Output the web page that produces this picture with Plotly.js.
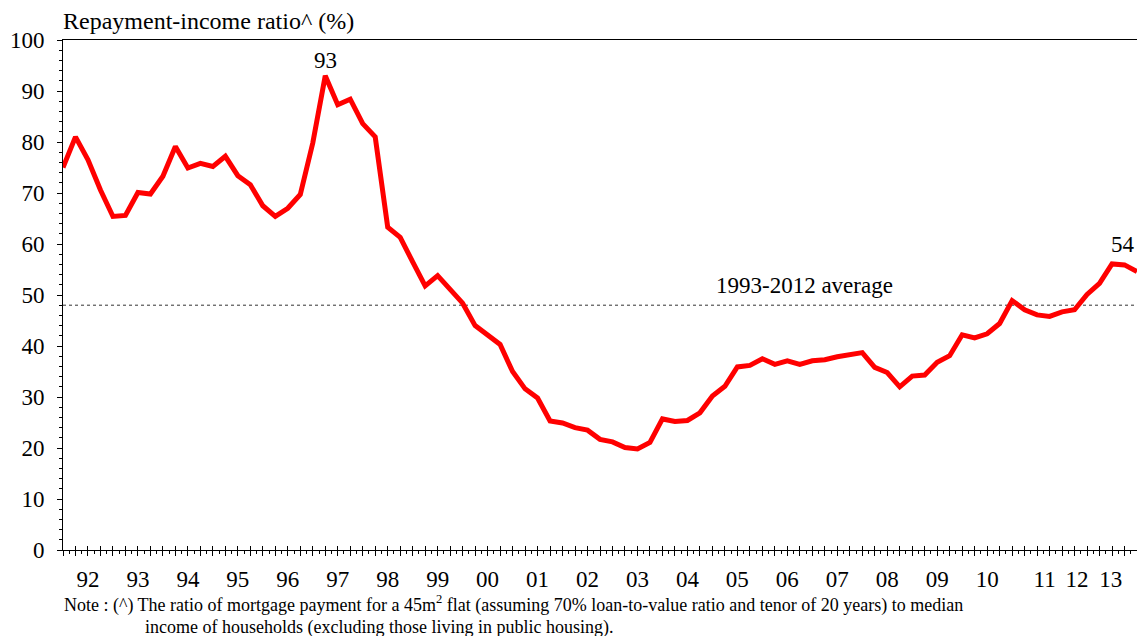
<!DOCTYPE html>
<html>
<head>
<meta charset="utf-8">
<script src="https://cdn.plot.ly/plotly-3.0.1.min.js"></script>
<style>html,body{margin:0;padding:0;background:#fff;}#chart{width:1137px;height:636px;}</style>
</head>
<body>
<div id="chart"></div>
<script>
// Quarterly repayment-income ratio (%), 1992 Q1 to 2013 Q3
const yearLabels = ['92','93','94','95','96','97','98','99','00','01','02','03','04','05','06','07','08','09','10','11','12','13'];
const ratio = [
  75.0, 81.0, 76.5, 70.6, 65.4, 65.6, 70.1, 69.8,   // 92-93
  73.3, 79.1, 74.9, 75.8, 75.2, 77.2, 73.4, 71.6,   // 94-95
  67.5, 65.4, 67.0, 69.7, 79.8, 93.0, 87.3, 88.4,   // 96-97
  83.6, 81.0, 63.3, 61.3, 56.5, 51.8, 53.8, 51.1,   // 98-99
  48.4, 44.0, 42.2, 40.3, 35.0, 31.6, 29.8, 25.3,   // 00-01
  24.9, 24.0, 23.5, 21.7, 21.2, 20.1, 19.8, 21.1,   // 02-03
  25.7, 25.2, 25.4, 26.9, 30.2, 32.1, 35.9, 36.2,   // 04-05
  37.5, 36.4, 37.1, 36.4, 37.1, 37.3, 37.9, 38.4,   // 06-07
  38.7, 35.8, 34.8, 32.0, 34.1, 34.3, 36.8, 38.1,   // 08-09
  42.2, 41.6, 42.4, 44.4, 48.9, 47.1, 46.1, 45.8,   // 10-11
  46.7, 47.1, 50.1, 52.3, 56.1, 55.9, 54.6          // 12-13
];
const averageRatio = 48.0;
const averageLabel = '1993-2012 average';
const peakLabels = ['93', '54'];
const peakIndex = [21, 85];

const quarterIdx = ratio.map((v, i) => i);
const lastIdx = ratio.length - 1;
// year label placed mid-year; the last three sit as in the source
const labelShift = {19: 78.6, 20: 81.2, 21: 83.9};
const labelPos = yearLabels.map((t, k) => (labelShift[k] !== undefined ? labelShift[k] : 4 * k + 2));

const serif = 'Liberation Serif, Times New Roman, serif';

const traces = [
  {x: quarterIdx, y: ratio, type: 'scatter', mode: 'lines',
   line: {color: '#FF0000', width: 5}, hoverinfo: 'skip', cliponaxis: false},
  {x: [0], y: [null], xaxis: 'x2', yaxis: 'y', type: 'scatter', mode: 'lines', hoverinfo: 'skip'},
  {x: [0], y: [null], xaxis: 'x3', yaxis: 'y', type: 'scatter', mode: 'lines', hoverinfo: 'skip'}
];

const baseX = {range: [0, lastIdx], showgrid: false, zeroline: false, fixedrange: true};

const layout = {
  width: 1137, height: 636,
  margin: {l: 63, r: 0, t: 40, b: 86},
  paper_bgcolor: '#fff', plot_bgcolor: '#fff',
  showlegend: false,
  font: {family: serif, color: '#000'},
  title: {text: 'Repayment-income ratio^ (%)', font: {family: serif, size: 24, color: '#000'},
          xref: 'container', yref: 'container', x: 63 / 1137, xanchor: 'left', y: 1 - 21 / 636, yanchor: 'middle'},
  xaxis: Object.assign({}, baseX, {
    showline: true, linecolor: '#000', linewidth: 1, mirror: true,
    ticks: '', tickmode: 'array', tickvals: labelPos, ticktext: yearLabels,
    tickfont: {family: serif, size: 23, color: '#000'}, ticklabelstandoff: 8
  }),
  xaxis2: Object.assign({}, baseX, {
    overlaying: 'x', anchor: 'y', side: 'bottom', showline: false, showticklabels: false,
    tickmode: 'linear', tick0: 0, dtick: 1, ticks: 'outside', ticklen: 5, tickcolor: '#000', tickwidth: 1,
    minor: {tickmode: 'linear', tick0: 0.5, dtick: 1, ticks: 'outside', ticklen: 3, tickcolor: '#000', showgrid: false}
  }),
  xaxis3: Object.assign({}, baseX, {
    overlaying: 'x', anchor: 'y', side: 'bottom', showline: false, showticklabels: false,
    tickmode: 'linear', tick0: 0, dtick: 1, ticks: 'inside', ticklen: 4, tickcolor: '#000', tickwidth: 1
  }),
  yaxis: {
    range: [0, 100], tickmode: 'linear', tick0: 0, dtick: 10,
    showline: true, linecolor: '#000', linewidth: 1, showgrid: false, zeroline: false,
    ticks: 'outside', ticklen: 5, tickcolor: '#000',
    minor: {tickmode: 'linear', dtick: 2, ticks: 'outside', ticklen: 3, tickcolor: '#000', showgrid: false},
    tickfont: {family: serif, size: 23, color: '#000'}, ticklabelstandoff: 8, fixedrange: true
  },
  shapes: [
    {type: 'line', xref: 'paper', x0: 0, x1: 1, yref: 'y', y0: averageRatio, y1: averageRatio,
     line: {color: '#333', width: 1, dash: 'dot'}, layer: 'below'}
  ],
  annotations: [
    {x: peakIndex[0], y: ratio[peakIndex[0]], xref: 'x', yref: 'y', text: peakLabels[0], showarrow: false,
     yshift: 15, font: {family: serif, size: 23, color: '#000'}},
    {x: peakIndex[1], y: ratio[peakIndex[1]], xref: 'x', yref: 'y', text: peakLabels[1], showarrow: false,
     yshift: 20, xshift: -2, font: {family: serif, size: 23, color: '#000'}},
    {x: 59.4, y: averageRatio, xref: 'x', yref: 'y', text: averageLabel, showarrow: false,
     yshift: 20, font: {family: serif, size: 23, color: '#000'}},
    {x: -1 / 1074, y: (550 - 604) / 510, xref: 'paper', yref: 'paper', xanchor: 'left', yanchor: 'middle',
     showarrow: false, font: {family: serif, size: 18, color: '#000'},
     text: 'Note : (^) The ratio of mortgage payment for a 45m<sup>2</sup> flat (assuming 70% loan-to-value ratio and tenor of 20 years) to median'},
    {x: 80 / 1074, y: (550 - 627) / 510, xref: 'paper', yref: 'paper', xanchor: 'left', yanchor: 'middle',
     showarrow: false, font: {family: serif, size: 18, color: '#000'},
     text: 'income of households (excluding those living in public housing).'}
  ]
};

Plotly.newPlot('chart', traces, layout, {staticPlot: true, displayModeBar: false});
</script>
</body>
</html>
